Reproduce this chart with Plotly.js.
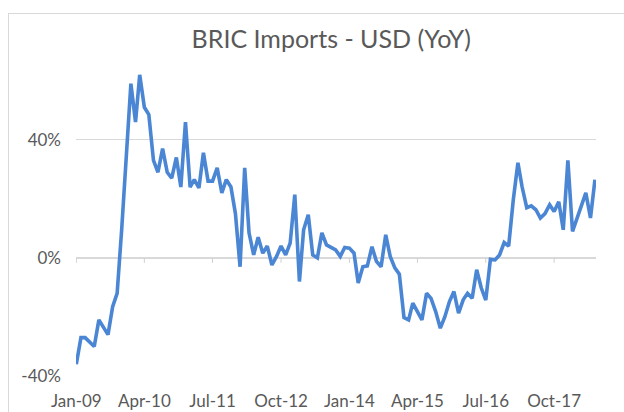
<!DOCTYPE html>
<html>
<head>
<meta charset="utf-8">
<script src="https://cdn.plot.ly/plotly-3.0.1.min.js"></script>
<style>
  html, body { margin: 0; padding: 0; background: #ffffff; }
  #wrap { position: relative; width: 624px; height: 412px; overflow: hidden; }
  #frame { position: absolute; left: 8px; top: 13px; width: 640px; height: 440px;
           border-top: 1px solid #d9d9d9; border-left: 1px solid #d9d9d9; box-sizing: border-box; pointer-events: none; }
  #chart { position: absolute; left: 0; top: 0; width: 624px; height: 412px; }
</style>
</head>
<body>
<div id="wrap">
  <div id="chart"></div>
  <div id="frame"></div>
</div>
<script>
// Monthly series, Jan-2009 .. Jul-2018
const startYear = 2009;
const startMonth = 1;
const importsYoY = [
  -36, -27, -27, -28.7, -30, -21, -23.7, -26, -16.5, -12, 10, 35,
  59, 46, 62, 51, 48.5, 33, 29, 37, 29, 27, 34, 24,
  46, 24, 26.5, 23.7, 35.6, 26, 26, 30.5, 22, 26.5, 24, 15,
  -3, 30.5, 8.5, 1, 7, 1.6, 4, -2.4, 0.5, 4, 1, 5,
  21.4, -8, 9.5, 14.6, 1, 0, 8.5, 4.4, 3.4, 2.7, 0.5, 3.5,
  3.3, 1.6, -8.5, -3, -2.7, 3.8, -1.2, -3, 7.8, 0.5, -3.4, -5.5,
  -20.2, -21, -15.3, -18.2, -21, -12, -13.7, -18.2, -23.8, -20, -14.8, -11.4,
  -18.7, -14.2, -12, -13.7, -4, -10.2, -14.3, -0.5, -0.7, 1, 5.2, 4,
  19.7, 32.2, 24, 17, 17.6, 16.3, 13.5, 15, 18, 15.7, 19, 9.5,
  33, 9, 13, 18, 22, 13.5, 26.5
];
const tickDates = ['2009-01-01','2010-04-01','2011-07-01','2012-10-01','2014-01-01','2015-04-01','2016-07-01','2017-10-01'];
const tickLabels = ['Jan-09','Apr-10','Jul-11','Oct-12','Jan-14','Apr-15','Jul-16','Oct-17'];
const yTicks = [-40, 0, 40];
const yTickLabels = ['-40%', '0%', '40%'];

const months = importsYoY.map((v, i) => {
  const m0 = (startMonth - 1) + i;
  const y = startYear + Math.floor(m0 / 12);
  const m = (m0 % 12) + 1;
  return y + '-' + String(m).padStart(2, '0') + '-01';
});

const trace = {
  x: months, y: importsYoY, type: 'scatter', mode: 'lines',
  line: { color: '#4a86d4', width: 3.6, shape: 'linear' },
  hoverinfo: 'x+y'
};

const tickShapes = tickDates.map(d => ({
  type: 'line', xref: 'x', yref: 'y', ysizemode: 'pixel', yanchor: 0,
  x0: d, x1: d, y0: 0, y1: -5,
  line: { color: '#d0d0d0', width: 1 }
}));

const layout = {
  width: 624, height: 412,
  margin: { l: 76, r: 28, t: 63, b: 36 },
  paper_bgcolor: '#ffffff', plot_bgcolor: '#ffffff',
  showlegend: false,
  font: { family: 'Lato, "Open Sans", sans-serif', color: '#595959' },
  title: {
    text: 'BRIC Imports - USD (YoY)',
    font: { family: 'Lato, "Open Sans", sans-serif', size: 25, color: '#595959' },
    xref: 'paper', x: 0.491, xanchor: 'center',
    yref: 'container', y: 0.905, yanchor: 'middle'
  },
  xaxis: {
    type: 'date',
    range: ['2008-12-30', '2018-07-08'],
    tickvals: tickDates, ticktext: tickLabels,
    showgrid: false, zeroline: false, showline: false,
    ticks: '', ticklabelstandoff: 13,
    tickfont: { size: 17, color: '#595959' }
  },
  yaxis: {
    range: [-40, 66],
    tickvals: yTicks, ticktext: yTickLabels,
    showgrid: true, gridcolor: '#d9d9d9', gridwidth: 1.3,
    zeroline: false, showline: false, ticks: '',
    ticklabelstandoff: 14,
    tickfont: { size: 17, color: '#595959' }
  },
  shapes: tickShapes
};

Plotly.newPlot('chart', [trace], layout, { displayModeBar: false, staticPlot: true });
</script>
</body>
</html>
